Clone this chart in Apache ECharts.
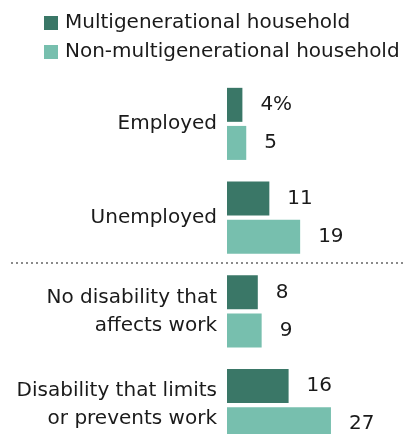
<!DOCTYPE html>
<html>
<head>
<meta charset="utf-8">
<script src="https://cdn.jsdelivr.net/npm/echarts@6/dist/echarts.min.js"></script>
<style>
  html, body { margin: 0; padding: 0; background: #fff; }
  #chart { width: 403px; height: 434px; }
</style>
</head>
<body>
<div id="chart"></div>
<script>
// 카테고리 및 값
const categories = ['Employed', 'Unemployed', 'No disability that\naffects work', 'Disability that limits\nor prevents work'];
const seriesNames = ['Multigenerational household', 'Non-multigenerational household'];
const multiValues = [4, 11, 8, 16];
const nonMultiValues = [5, 19, 9, 27];

const COLORS = ['#3a7767', '#77bfae'];
const FONT = 'DejaVu Sans';

const chart = echarts.init(document.getElementById('chart'));

const valueLabel = {
    show: true,
    position: 'right',
    distance: 18,
    fontFamily: FONT,
    fontSize: 20,
    color: '#1a1a1a',
    formatter: (p) => (p.seriesIndex === 0 && p.dataIndex === 0) ? p.value + '%' : String(p.value)
};

const option = {
    animation: false,
    legend: {
        orient: 'vertical',
        left: 44,
        top: 13,
        padding: 0,
        itemWidth: 14,
        itemHeight: 14,
        itemGap: 9,
        icon: 'rect',
        textStyle: { fontFamily: FONT, fontSize: 20, color: '#1a1a1a', padding: [0, 0, 0, 2] },
        data: seriesNames
    },
    // 마지막 막대는 그림 아래로 약간 잘림
    grid: {
        left: 227,
        top: 77,
        width: 154,
        height: 375,
        outerBoundsMode: 'none',
        containLabel: false
    },
    xAxis: {
        type: 'value',
        min: 0,
        max: 40,
        show: false
    },
    yAxis: {
        type: 'category',
        inverse: true,
        data: categories,
        axisLine: { show: false },
        axisTick: { show: false },
        axisLabel: {
            margin: 10,
            fontFamily: FONT,
            fontSize: 20,
            lineHeight: 28,
            color: '#1a1a1a',
            align: 'right'
        }
    },
    series: [
        {
            name: seriesNames[0],
            type: 'bar',
            data: multiValues,
            barWidth: 34,
            barGap: '12%',
            itemStyle: { color: COLORS[0] },
            label: valueLabel
        },
        {
            name: seriesNames[1],
            type: 'bar',
            data: nonMultiValues,
            barWidth: 34,
            barGap: '12%',
            itemStyle: { color: COLORS[1] },
            label: valueLabel
        }
    ],
    graphic: [{
        type: 'line',
        shape: { x1: 11, y1: 263, x2: 403, y2: 263 },
        style: { stroke: '#8a8a8a', lineWidth: 2, lineDash: [2, 3] }
    }]
};

chart.setOption(option);
</script>
</body>
</html>
